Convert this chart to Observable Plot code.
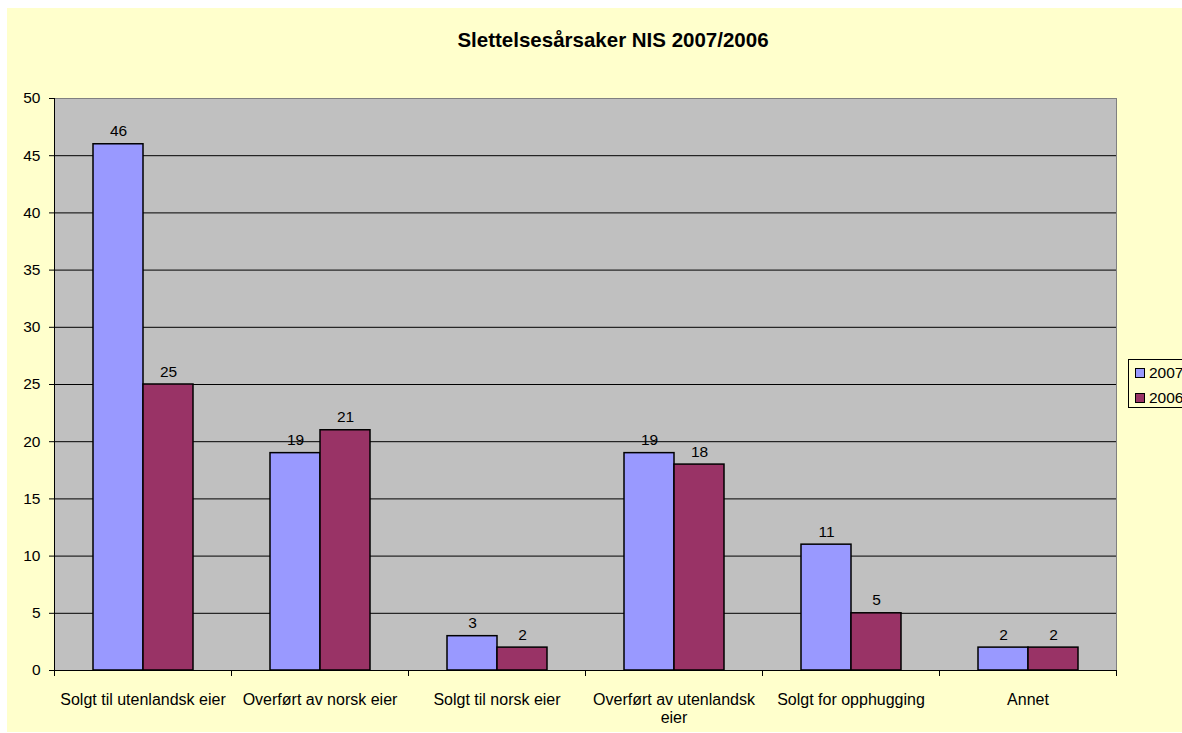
<!DOCTYPE html>
<html><head><meta charset="utf-8">
<script src="https://cdn.jsdelivr.net/npm/d3@7"></script>
<script src="https://cdn.jsdelivr.net/npm/@observablehq/plot@0.6"></script>
<style>
html,body{margin:0;padding:0;background:#fff;overflow:hidden;width:1182px;height:733px;}
#bg{position:absolute;left:7px;top:8px;width:1200px;height:724px;background:#FFFFCC;}
#title{position:absolute;left:0;top:30px;width:1226px;text-align:center;font:bold 20.5px "Liberation Sans",Arial,sans-serif;line-height:20.5px;color:#000;}
#chart{position:absolute;left:0;top:0;width:1182px;height:733px;}
#legend{position:absolute;left:1128px;top:359px;width:80px;height:47px;border:1px solid #000;background:#FFFFCC;font:15.5px "Liberation Sans",Arial,sans-serif;color:#000;}
.item{position:absolute;left:6px;height:16px;line-height:16px;white-space:nowrap;}
.sw{display:inline-block;width:8px;height:8px;border:1px solid #000;vertical-align:middle;margin-right:4px;position:relative;top:-1px;}
</style></head><body>
<div id="bg"></div>
<div id="title">Slettelsesårsaker NIS 2007/2006</div>
<div id="chart"></div>
<div id="legend"></div>
<script>
const categories = ["Solgt til utenlandsk eier", "Overført av norsk eier", "Solgt til norsk eier", "Overført av utenlandsk eier", "Solgt for opphugging", "Annet"];
const categoryLabels = ["Solgt til utenlandsk eier", "Overført av norsk eier", "Solgt til norsk eier", "Overført av utenlandsk\neier", "Solgt for opphugging", "Annet"];
const years = ["2007", "2006"];
const values2007 = [46, 19, 3, 19, 11, 2];
const values2006 = [25, 21, 2, 18, 5, 2];
const yTicks = [0, 5, 10, 15, 20, 25, 30, 35, 40, 45, 50];
const colors = ["#9999FF", "#993366"];

const series = {"2007": values2007, "2006": values2006};
const data = categories.flatMap((c, i) => years.map(y => ({category: c, year: y, value: series[y][i]})));
const gridTicks = yTicks.filter(t => t > 0 && t < 50);
const labelOf = new Map(categories.map((c, i) => [c, categoryLabels[i]]));

function boundaryTicks(index, scales, values, dimensions) {
  const {marginLeft, marginRight, marginBottom, width, height} = dimensions;
  const y0 = height - marginBottom;
  return d3.create("svg:path")
    .attr("d", `M${marginLeft + 0.5},${y0}v6M${width - marginRight + 0.5},${y0}v6`)
    .attr("stroke", "#000")
    .attr("fill", "none")
    .node();
}

const chart = Plot.plot({
  width: 1182,
  height: 733,
  marginLeft: 54,
  marginRight: 66,
  marginTop: 98,
  marginBottom: 63,
  style: {background: "transparent", fontFamily: "'Liberation Sans', Arial, sans-serif", fontSize: "15.5px", color: "#000"},
  fx: {domain: categories, padding: 0},
  x: {domain: years, paddingInner: 0, paddingOuter: 0.75, axis: null},
  y: {domain: [0, 50]},
  color: {domain: years, range: colors},
  marks: [
    Plot.frame({facet: "super", fill: "#C0C0C0"}),
    Plot.ruleY(gridTicks, {stroke: "#000", strokeWidth: 1}),
    Plot.ruleY([50], {stroke: "#808080", strokeWidth: 1}),
    Plot.frame({facet: "super", anchor: "right", stroke: "#808080"}),
    Plot.barY(data, {fx: "category", x: "year", y: "value", fill: "year", stroke: "#000", strokeWidth: 1.5}),
    Plot.text(data, {fx: "category", x: "year", y: "value", text: "value", dy: -8, lineAnchor: "bottom", fill: "#000", fontSize: 15.5}),
    Plot.ruleY([0], {stroke: "#000", strokeWidth: 1}),
    Plot.frame({facet: "super", anchor: "left", stroke: "#000"}),
    boundaryTicks,
    Plot.axisY({ticks: yTicks, tickSize: 5, tickPadding: 9, label: null, fontSize: 15.5}),
    Plot.axisFx({anchor: "bottom", tickSize: 0, tickPadding: 21, label: null, fontSize: 16, lineHeight: 1.15, tickFormat: d => labelOf.get(d)})
  ]
});
document.getElementById("chart").appendChild(chart);

const legend = document.getElementById("legend");
years.forEach((y, i) => {
  const item = document.createElement("div");
  item.className = "item";
  item.style.top = (5 + i * 25) + "px";
  const sw = document.createElement("span");
  sw.className = "sw";
  sw.style.background = colors[i];
  item.appendChild(sw);
  item.appendChild(document.createTextNode(y));
  legend.appendChild(item);
});
</script>
</body></html>
